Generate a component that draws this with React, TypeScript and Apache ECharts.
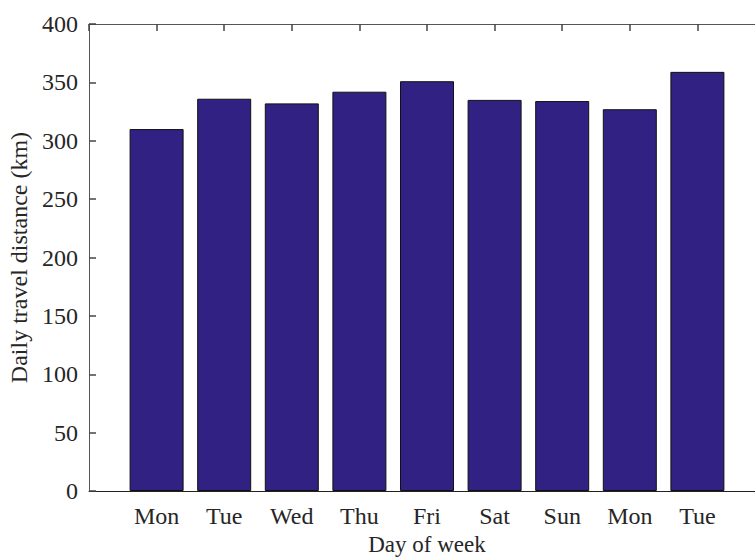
import React, { useEffect, useRef } from "react";
import * as echarts from "echarts";

const days = ["Mon", "Tue", "Wed", "Thu", "Fri", "Sat", "Sun", "Mon", "Tue"];
const distances = [310, 336, 332, 342, 351, 335, 334, 327, 359];
const yTicks = [0, 50, 100, 150, 200, 250, 300, 350, 400];

export default function App() {
  const ref = useRef<HTMLDivElement>(null);
  useEffect(() => {
    if (!ref.current) return;
    const chart = echarts.init(ref.current, null, { renderer: "svg" });
    const font = "'Liberation Serif', 'Times New Roman', serif";
    const textColor = "#262626";
    const lineColor = "#555555";
    const tickColor = "#444444";
    chart.setOption({
      animation: false,
      backgroundColor: "#ffffff",
      grid: {
        left: 89,
        right: 20,
        top: 24,
        bottom: 68,
        containLabel: false,
        outerBoundsMode: "none",
      },
      xAxis: [
        {
          type: "value",
          min: 0,
          max: 10,
          interval: 1,
          position: "bottom",
          name: "Day of week",
          nameLocation: "middle",
          nameGap: 42,
          nameTextStyle: { fontFamily: font, fontSize: 23, color: textColor },
          axisLine: { show: true, onZero: false, lineStyle: { color: "#222", width: 1 } },
          axisTick: { show: false },
          splitLine: { show: false },
          axisLabel: {
            fontFamily: font,
            fontSize: 24,
            color: textColor,
            margin: 13,
            formatter: (v: number) => (v >= 1 && v <= days.length ? days[v - 1] : ""),
          },
        },
        {
          type: "category",
          gridIndex: 0,
          position: "top",
          data: ["", ...days, ""],
          boundaryGap: false,
          axisLine: { show: true, onZero: false, lineStyle: { color: lineColor, width: 1 } },
          axisTick: { show: true, inside: true, length: 7, lineStyle: { color: tickColor, width: 1.5 } },
          axisLabel: { show: false },
          splitLine: { show: false },
          z: 10,
        },
      ],
      yAxis: [
        {
          type: "value",
          min: 0,
          max: 400,
          interval: 50,
          position: "left",
          name: "Daily travel distance (km)",
          nameLocation: "middle",
          nameGap: 57,
          nameTextStyle: { fontFamily: font, fontSize: 24, color: textColor },
          axisLine: { show: true, onZero: false, lineStyle: { color: lineColor, width: 1 } },
          axisTick: { show: false },
          splitLine: { show: false },
          axisLabel: {
            fontFamily: font,
            fontSize: 24,
            color: textColor,
            margin: 11,
            formatter: (v: number) => (yTicks.includes(v) ? String(v) : ""),
          },
        },
        {
          type: "category",
          gridIndex: 0,
          position: "left",
          data: yTicks.map(String),
          boundaryGap: false,
          axisLine: { show: false },
          axisTick: { show: true, inside: true, length: 7, lineStyle: { color: tickColor, width: 1.5 } },
          axisLabel: { show: false },
          splitLine: { show: false },
          z: 10,
        },
      ],
      series: [
        {
          type: "bar",
          xAxisIndex: 0,
          yAxisIndex: 0,
          barWidth: 54,
          data: distances.map((d, i) => [i + 1, d]),
          itemStyle: { color: "#312183", borderColor: "#111", borderWidth: 1 },
        },
      ],
    });
    return () => chart.dispose();
  }, []);
  return (
    <div
      style={{
        position: "absolute",
        left: 0,
        top: 0,
        width: 755,
        height: 559,
        overflow: "hidden",
      }}
    >
      <div ref={ref} style={{ width: 785, height: 559 }} />
    </div>
  );
}
